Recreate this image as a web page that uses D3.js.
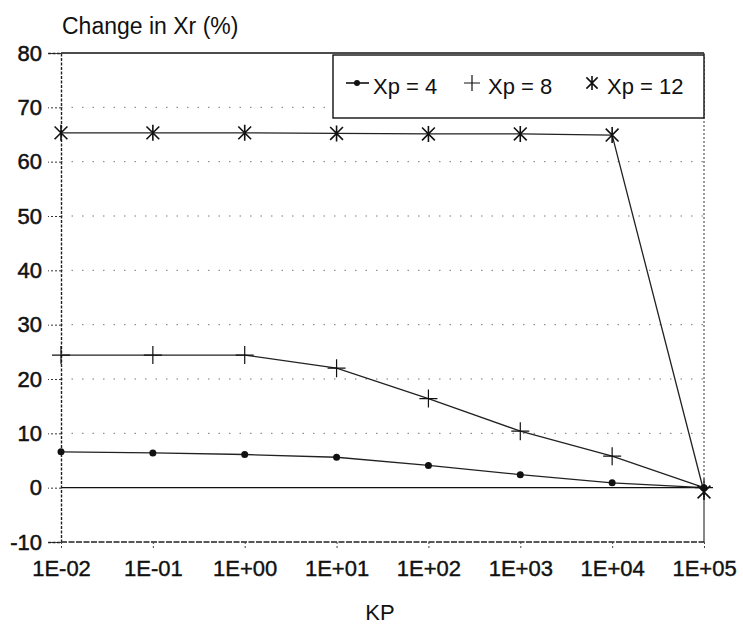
<!DOCTYPE html>
<html>
<head>
<meta charset="utf-8">
<script src="https://cdn.jsdelivr.net/npm/d3@7"></script>
<style>
  html, body { margin: 0; padding: 0; background: #fff; }
  svg text { font-family: "Liberation Sans", Arial, Helvetica, sans-serif; fill: #111; }
</style>
</head>
<body>
<svg id="chart" width="743" height="626"></svg>
<script>
// --- Data ---
const kpValues = [1e-2, 1e-1, 1e0, 1e1, 1e2, 1e3, 1e4, 1e5];
const xTickLabels = ["1E-02", "1E-01", "1E+00", "1E+01", "1E+02", "1E+03", "1E+04", "1E+05"];
const yTicks = [-10, 0, 10, 20, 30, 40, 50, 60, 70, 80];
const xp4 = [6.6, 6.4, 6.1, 5.6, 4.1, 2.4, 0.9, 0.0];
const xp8 = [24.4, 24.4, 24.4, 22.0, 16.4, 10.4, 5.8, 0.0];
const xp12 = [65.3, 65.3, 65.3, 65.2, 65.1, 65.1, 64.9, -0.8];
const seriesNames = ["Xp = 4", "Xp = 8", "Xp = 12"];

// --- Layout ---
const plot = { left: 61, right: 704, top: 53, bottom: 542 };

const svg = d3.select('#chart');

const x = d3.scaleLog().domain([1e-2, 1e5]).range([plot.left, plot.right]);
const y = d3.scaleLinear().domain([-10, 80]).range([plot.bottom, plot.top]);

// horizontal dotted grid lines
svg.append('g')
    .selectAll('line')
    .data(yTicks.filter(d => d > -10 && d < 80 && d !== 0))
    .enter()
    .append('line')
    .attr('x1', plot.left).attr('x2', plot.right)
    .attr('y1', d => y(d)).attr('y2', d => y(d))
    .attr('stroke', '#777')
    .attr('stroke-width', 1)
    .attr('stroke-dasharray', '1.5,9');

// plot frame: top solid, others dotted-dark
svg.append('line')
    .attr('x1', plot.left).attr('x2', plot.right)
    .attr('y1', y(80)).attr('y2', y(80))
    .attr('stroke', '#111').attr('stroke-width', 1.4);
svg.append('line')
    .attr('x1', plot.left).attr('x2', plot.right)
    .attr('y1', y(-10)).attr('y2', y(-10))
    .attr('stroke', '#222').attr('stroke-width', 1.4)
    .attr('stroke-dasharray', '6,1.5');
svg.append('line')
    .attr('x1', plot.right).attr('x2', plot.right)
    .attr('y1', y(80)).attr('y2', y(0))
    .attr('stroke', '#333').attr('stroke-width', 1)
    .attr('stroke-dasharray', '2,2');
svg.append('line')
    .attr('x1', plot.right).attr('x2', plot.right)
    .attr('y1', y(0)).attr('y2', y(-10))
    .attr('stroke', '#111').attr('stroke-width', 1);

// zero line
svg.append('line')
    .attr('x1', plot.left).attr('x2', plot.right)
    .attr('y1', y(0)).attr('y2', y(0))
    .attr('stroke', '#111').attr('stroke-width', 1.2);

// y axis (left, dotted)
const yAxis = d3.axisLeft(y)
    .tickValues(yTicks)
    .tickSize(13)
    .tickPadding(6)
    .tickFormat(d => String(d)); // plain hyphen for -10
const yAxisG = svg.append('g')
    .attr('transform', `translate(${plot.left},0)`)
    .call(yAxis);
yAxisG.select('.domain')
    .attr('stroke', '#222').attr('stroke-width', 1.4)
    .attr('stroke-dasharray', '3,1.5');
yAxisG.selectAll('.tick line')
    .attr('stroke', '#333').attr('stroke-dasharray', '2,2');
yAxisG.selectAll('.tick text')
    .attr('font-size', 22)
    .attr('stroke', '#111').attr('stroke-width', 0.5)
    .attr('font-family', '"Liberation Sans", Arial, sans-serif');

// x axis (bottom)
const xAxis = d3.axisBottom(x)
    .tickValues(kpValues)
    .tickSize(6)
    .tickPadding(12)
    .tickFormat((d, i) => xTickLabels[i]);
const xAxisG = svg.append('g')
    .attr('transform', `translate(0,${plot.bottom})`)
    .call(xAxis);
xAxisG.select('.domain').remove();
xAxisG.selectAll('.tick line')
    .attr('stroke', '#444').attr('stroke-dasharray', '2,2');
xAxisG.selectAll('.tick text')
    .attr('font-size', 22)
    .attr('stroke', '#111').attr('stroke-width', 0.4)
    .attr('font-family', '"Liberation Sans", Arial, sans-serif');

// axis titles
svg.append('text')
    .attr('x', 62).attr('y', 34)
    .attr('font-size', 23)
    .text('Change in Xr (%)');
svg.append('text')
    .attr('x', 380).attr('y', 620)
    .attr('text-anchor', 'middle')
    .attr('font-size', 22)
    .text('KP');

// --- Series ---
const line = d3.line()
    .x((d, i) => x(kpValues[i]))
    .y(d => y(d));

function drawPlus(g, cx, cy, s) {
    g.append('path')
        .attr('d', `M${cx - s},${cy}H${cx + s}M${cx},${cy - s}V${cy + s}`)
        .attr('stroke', '#111').attr('stroke-width', 1.2).attr('fill', 'none');
}
function drawStar(g, cx, cy, s) {
    const a = s * 0.8;
    g.append('path')
        .attr('d', `M${cx - a},${cy - a}L${cx + a},${cy + a}M${cx - a},${cy + a}L${cx + a},${cy - a}M${cx},${cy - s}V${cy + s}`)
        .attr('stroke', '#111').attr('stroke-width', 1.6).attr('fill', 'none');
}

const seriesG = svg.append('g');
[xp4, xp8, xp12].forEach(vals => {
    seriesG.append('path')
        .datum(vals)
        .attr('d', line)
        .attr('fill', 'none')
        .attr('stroke', '#222')
        .attr('stroke-width', 1.3);
});

// markers
seriesG.selectAll('.dot4')
    .data(xp4)
    .enter()
    .append('circle')
    .attr('class', 'dot4')
    .attr('cx', (d, i) => x(kpValues[i]))
    .attr('cy', d => y(d))
    .attr('r', 3.5)
    .attr('fill', '#111');
xp8.forEach((d, i) => drawPlus(seriesG, x(kpValues[i]), y(d), 9));
xp12.forEach((d, i) => drawStar(seriesG, x(kpValues[i]), y(d), 8));

// --- Legend ---
const legend = svg.append('g');
legend.append('rect')
    .attr('x', 333).attr('y', 55)
    .attr('width', 371).attr('height', 63)
    .attr('fill', '#fff')
    .attr('stroke', '#111').attr('stroke-width', 1.4);

const legY = 86;
legend.append('line')
    .attr('x1', 346).attr('x2', 369)
    .attr('y1', legY - 3).attr('y2', legY - 3)
    .attr('stroke', '#111').attr('stroke-width', 1.6);
legend.append('circle')
    .attr('cx', 357).attr('cy', legY - 3).attr('r', 3).attr('fill', '#111');
legend.append('text')
    .attr('x', 373).attr('y', legY + 8)
    .attr('font-size', 22)
    .text(seriesNames[0]);

drawPlus(legend, 472, legY - 3, 8);
legend.append('text')
    .attr('x', 488).attr('y', legY + 8)
    .attr('font-size', 22)
    .text(seriesNames[1]);

drawStar(legend, 592, legY - 3, 7);
legend.append('text')
    .attr('x', 607).attr('y', legY + 8)
    .attr('font-size', 22)
    .text(seriesNames[2]);
</script>
</body>
</html>
